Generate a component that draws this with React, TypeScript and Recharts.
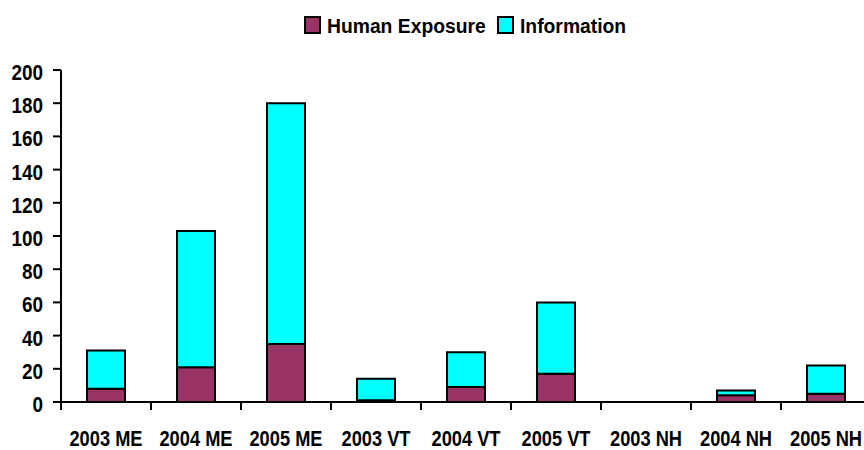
import React from 'react';
import { BarChart, Bar, XAxis, YAxis, Legend } from 'recharts';

const categories = ['2003 ME', '2004 ME', '2005 ME', '2003 VT', '2004 VT', '2005 VT', '2003 NH', '2004 NH', '2005 NH'];
const humanExposure = [8, 21, 35, 1, 9, 17, 0, 4, 5];
const information = [23, 82, 145, 13, 21, 43, 0, 3, 17];
const yTicks = [0, 20, 40, 60, 80, 100, 120, 140, 160, 180, 200];

const seriesInfo = [
  { key: 'human', name: 'Human Exposure', color: '#993366' },
  { key: 'info', name: 'Information', color: '#00FFFF' },
];

const data = categories.map((name, i) => ({
  name,
  human: humanExposure[i],
  info: information[i],
}));

const FONT = '"Liberation Sans", Arial, sans-serif';

// legend drawn as svg so the text can be squeezed like the narrow original font
const legendX = [305, 498];
const LegendBox = () => (
  <svg width={864} height={40} style={{ display: 'block' }}>
    {seriesInfo.map((s, i) => (
      <g key={s.key}>
        <rect x={legendX[i]} y={17} width={15} height={16} fill={s.color} stroke="#000" strokeWidth={2} />
        <text
          transform={`translate(${legendX[i] + 22},32.5) scale(0.92,1)`}
          fontFamily={FONT}
          fontWeight="bold"
          fontSize={21}
          fill="#000"
        >
          {s.name}
        </text>
      </g>
    ))}
  </svg>
);

const XTick = (props: any) => {
  const { x, y, payload } = props;
  const half = payload && payload.offset ? payload.offset : 45;
  return (
    <g>
      <line x1={x - half} y1={402} x2={x - half} y2={410} stroke="#000" strokeWidth={2} />
      <text
        transform={`translate(${x},${y + 36}) scale(0.83,1)`}
        textAnchor="middle"
        fontFamily={FONT}
        fontWeight="bold"
        fontSize={22}
        fill="#000"
      >
        {payload.value}
      </text>
    </g>
  );
};

const YTick = (props: any) => {
  const { x, y, payload } = props;
  return (
    <text
      transform={`translate(${x},${y + 10}) scale(0.86,1)`}
      textAnchor="end"
      fontFamily={FONT}
      fontWeight="bold"
      fontSize={22}
      fill="#000"
    >
      {payload.value}
    </text>
  );
};

const App = () => {
  return (
    <div style={{ position: 'absolute', left: 0, top: 0, width: 864, height: 450, overflow: 'hidden', background: '#fff' }}>
      <BarChart width={872} height={450} data={data} barSize={38} margin={{ top: 70, right: 1, bottom: 0, left: 0 }}>
        <Legend
          layout="horizontal"
          verticalAlign="middle"
          content={<LegendBox />}
          wrapperStyle={{ top: 0, left: 0, width: 864 }}
        />
        <XAxis
          dataKey="name"
          height={48}
          interval={0}
          axisLine={{ stroke: '#000', strokeWidth: 2 }}
          tickLine={false}
          tick={<XTick />}
        />
        <YAxis
          width={61}
          domain={[0, 200]}
          ticks={yTicks}
          interval={0}
          axisLine={{ stroke: '#000', strokeWidth: 2 }}
          tickLine={{ stroke: '#000', strokeWidth: 2 }}
          tickSize={8}
          tickMargin={10}
          tick={<YTick />}
        />
        {seriesInfo.map((s) => (
          <Bar key={s.key} dataKey={s.key} name={s.name} stackId="a" fill={s.color} stroke="#000" strokeWidth={2} isAnimationActive={false} />
        ))}
      </BarChart>
    </div>
  );
};

export default App;
